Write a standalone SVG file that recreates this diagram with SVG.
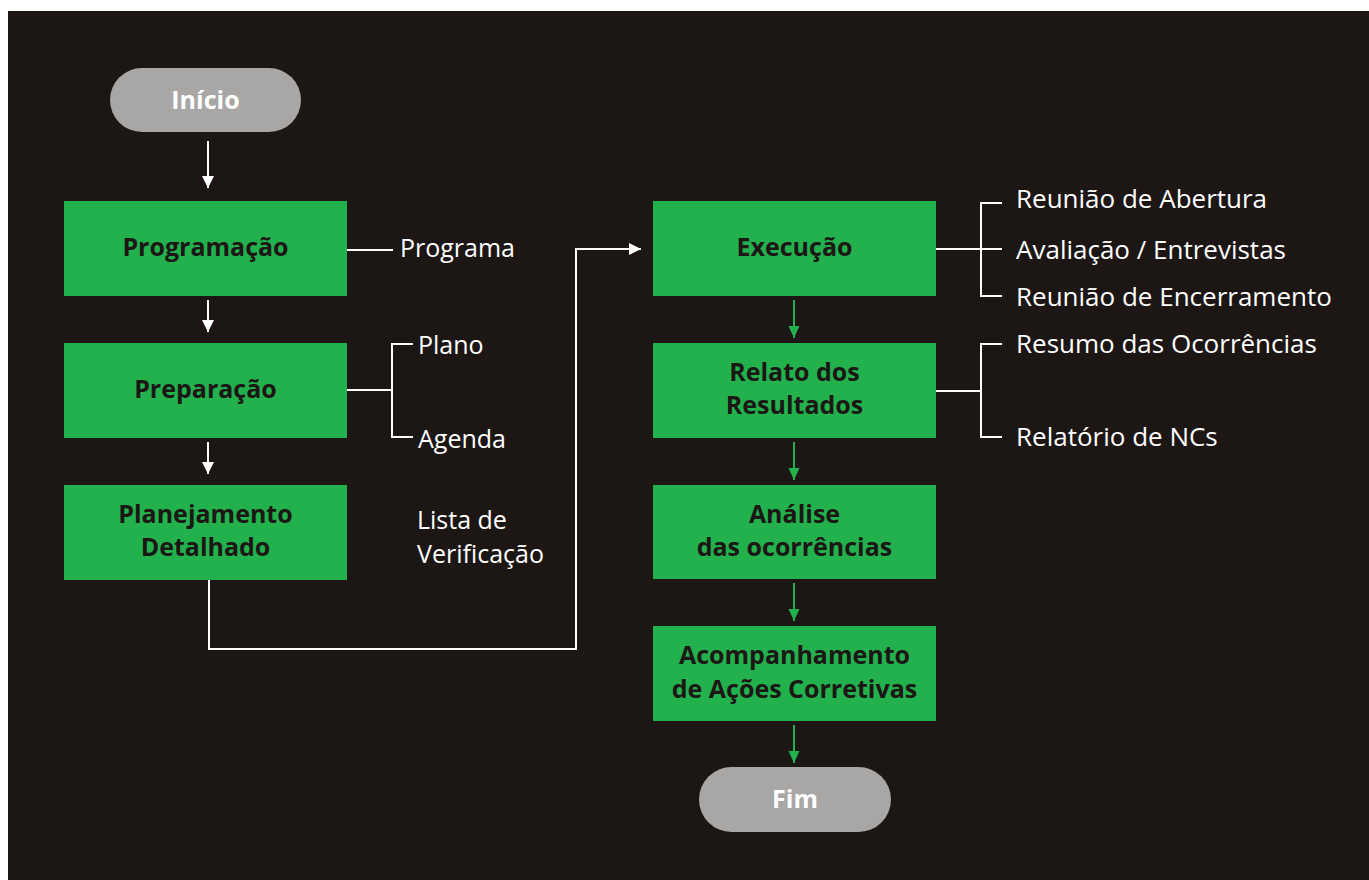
<svg xmlns="http://www.w3.org/2000/svg" width="1369" height="880" viewBox="0 0 1369 880">
<defs>
<marker id="aw" markerUnits="userSpaceOnUse" markerWidth="12" markerHeight="12" refX="12" refY="6" orient="auto"><path d="M0,0 L12,6 L0,12 z" fill="#ffffff"/></marker>
<marker id="ag" markerUnits="userSpaceOnUse" markerWidth="12" markerHeight="12" refX="12" refY="6" orient="auto"><path d="M0,0.5 L12,6 L0,11.5 z" fill="#22b14c"/></marker>
</defs>
<style>
.box{fill:#22b14c}
.pill{fill:#a8a7a5}
.bt{font-family:"Open Sans","DejaVu Sans",sans-serif;font-weight:700;font-size:25px;fill:#1c1715;text-anchor:middle}
.pt{font-family:"Open Sans","DejaVu Sans",sans-serif;font-weight:700;font-size:25px;fill:#ffffff;text-anchor:middle}
.lt{font-family:"Open Sans","DejaVu Sans",sans-serif;font-size:25px;fill:#ffffff}
.rt{font-size:26px}
.w{stroke:#ffffff;stroke-width:2;fill:none}
.g{stroke:#22b14c;stroke-width:2;fill:none}
</style>
<rect x="0" y="0" width="1369" height="880" fill="#ffffff"/>
<rect x="8" y="11" width="1361" height="869" fill="#1c1715"/>

<g id="connectors">
<line class="w" x1="208" y1="141" x2="208" y2="188" marker-end="url(#aw)"/>
<line class="w" x1="208" y1="300" x2="208" y2="332" marker-end="url(#aw)"/>
<line class="w" x1="208" y1="442" x2="208" y2="474" marker-end="url(#aw)"/>
<line class="w" x1="347" y1="250" x2="393" y2="250"/>
<path class="w" d="M347,390 H392 M413,344 H392 V437 H413"/>
<path class="w" d="M209,580 V649 H576 V249 H641" marker-end="url(#aw)"/>
<path class="w" d="M936,249 H1002 M1002,203 H981 V296 H1002"/>
<path class="w" d="M936,391 H981 M1002,344 H981 V437 H1002"/>
<line class="g" x1="794" y1="300" x2="794" y2="338" marker-end="url(#ag)"/>
<line class="g" x1="794" y1="442" x2="794" y2="480" marker-end="url(#ag)"/>
<line class="g" x1="794" y1="583" x2="794" y2="621" marker-end="url(#ag)"/>
<line class="g" x1="794" y1="725" x2="794" y2="763" marker-end="url(#ag)"/>
</g>

<g id="inicio"><rect class="pill" x="110" y="68" width="191" height="64" rx="32"/><text class="pt" x="205.5" y="109">Início</text></g>
<g id="programacao"><rect class="box" x="64" y="201" width="283" height="95"/><text class="bt" x="205.5" y="256">Programação</text></g>
<g id="programa"><text class="lt" x="400" y="257">Programa</text></g>
<g id="preparacao"><rect class="box" x="64" y="343" width="283" height="95"/><text class="bt" x="205.5" y="398">Preparação</text></g>
<g id="plano"><text class="lt" x="418" y="354">Plano</text></g>
<g id="agenda"><text class="lt" x="418" y="448">Agenda</text></g>
<g id="planejamento"><rect class="box" x="64" y="485" width="283" height="95"/><text class="bt" x="205.5" y="523">Planejamento</text><text class="bt" x="205.5" y="556">Detalhado</text></g>
<g id="lista"><text class="lt" x="417" y="529">Lista de</text><text class="lt" x="417" y="563">Verificação</text></g>
<g id="execucao"><rect class="box" x="653" y="201" width="283" height="95"/><text class="bt" x="794.5" y="256">Execução</text></g>
<g id="exec-items"><text class="lt rt" x="1016" y="208">Reunião de Abertura</text><text class="lt rt" x="1016" y="259">Avaliação / Entrevistas</text><text class="lt rt" x="1016" y="306">Reunião de Encerramento</text></g>
<g id="relato"><rect class="box" x="653" y="343" width="283" height="95"/><text class="bt" x="794.5" y="381">Relato dos</text><text class="bt" x="794.5" y="414">Resultados</text></g>
<g id="relato-items"><text class="lt rt" x="1016" y="353">Resumo das Ocorrências</text><text class="lt rt" x="1016" y="446">Relatório de NCs</text></g>
<g id="analise"><rect class="box" x="653" y="485" width="283" height="94"/><text class="bt" x="794.5" y="523">Análise</text><text class="bt" x="794.5" y="556">das ocorrências</text></g>
<g id="acompanhamento"><rect class="box" x="653" y="626" width="283" height="95"/><text class="bt" x="794.5" y="664">Acompanhamento</text><text class="bt" x="794.5" y="698">de Ações Corretivas</text></g>
<g id="fim"><rect class="pill" x="699" y="767" width="192" height="65" rx="32.5"/><text class="pt" x="795" y="808">Fim</text></g>
</svg>
